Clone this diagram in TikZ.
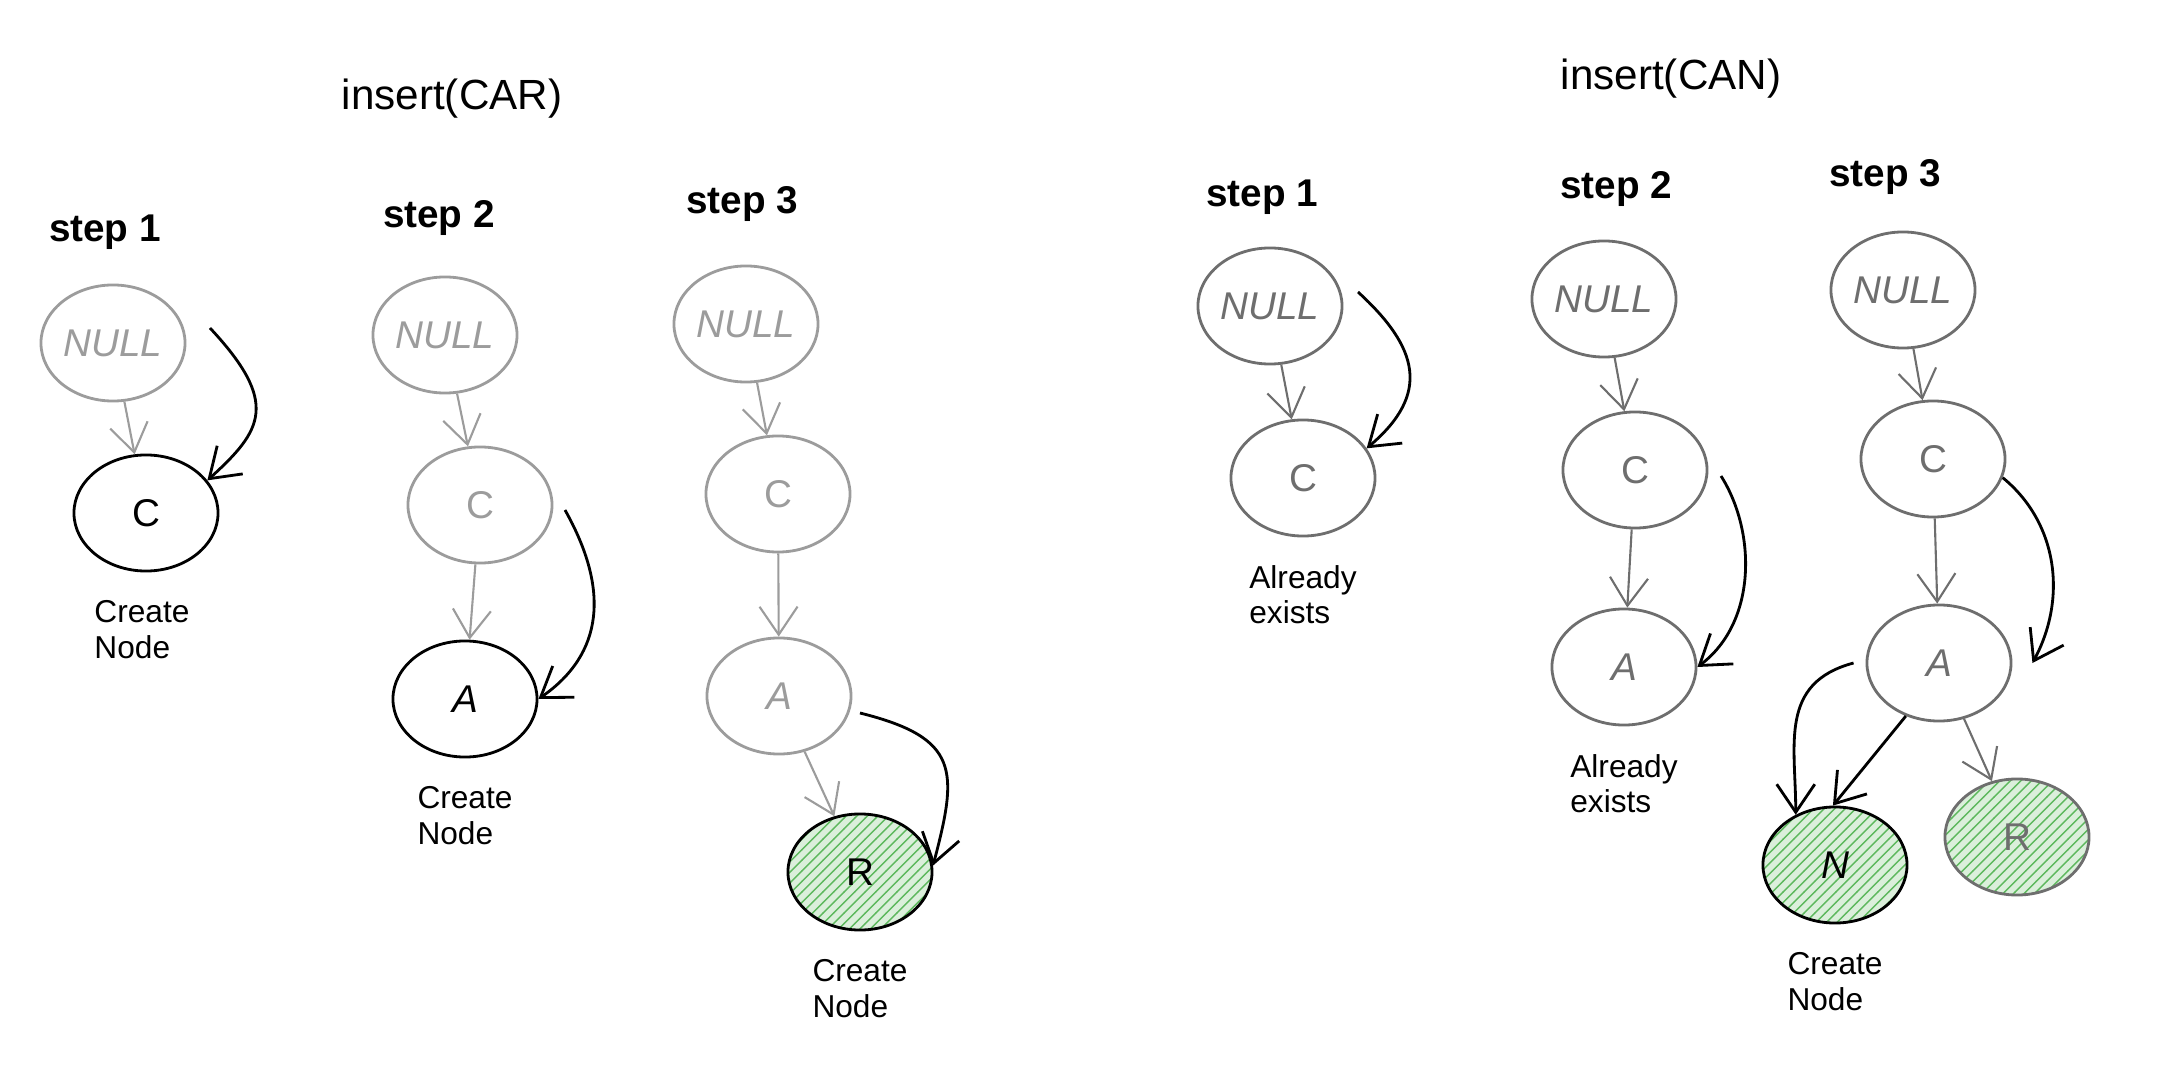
\documentclass[tikz,border=0pt]{standalone}
\usepackage{fontspec}
\setmainfont{Liberation Sans}
\usetikzlibrary{positioning,shapes.geometric,arrows.meta,patterns}

\definecolor{fadegray}{HTML}{9C9C9C}
\definecolor{midgray}{HTML}{6E6E6E}
\definecolor{hatchgreen}{HTML}{5DB85D}

\begin{document}
\begin{tikzpicture}[
	x=0.01cm,y=-0.01cm,
	node distance=0.16cm,
	tree/.style={draw,ellipse,minimum width=1.44cm,minimum height=1.16cm,inner sep=0pt,line width=0.8pt,font=\fontsize{11}{13}\selectfont},
	faded/.style={tree,draw=fadegray,text=fadegray},
	done/.style={tree,draw=midgray,text=midgray},
	active/.style={tree,draw=black,text=black},
	newnode/.style={preaction={fill=hatchgreen!22},pattern=north east lines,pattern color=hatchgreen},
	steplabel/.style={font=\bfseries\fontsize{11}{13}\selectfont},
	title/.style={font=\fontsize{12}{14}\selectfont},
	note/.style={align=left,font=\fontsize{9}{10}\selectfont},
	ptr/.style={-{Straight Barb[length=0.28cm,width=0.38cm]},line width=0.8pt},
	fadeptr/.style={ptr,draw=fadegray,line width=0.6pt},
	doneptr/.style={ptr,draw=midgray,line width=0.6pt}
	]
	\useasboundingbox (0,0) rectangle (2162,1082);

	% insert(CAR)
	\node[title] (carhead) at (452,99) {insert(CAR)};

	\node[steplabel] (car1) at (105,232) {step 1};
	\node[faded] (null11) at (113,343) {\itshape NULL};
	\node[active] (c11) at (146,513) {C};
	\node[note,below=of c11,xshift=-0.04cm] {Create\\Node};
	\coordinate (p11) at (210,328);
	\draw[fadeptr] (null11) -- (c11);
	\draw[ptr] (p11) .. controls +(70,75) and +(55,-50) .. (c11.28);

	\node[steplabel] (car2) at (439,218) {step 2};
	\node[faded] (null12) at (445,335) {\itshape NULL};
	\node[faded] (c12) at (480,505) {C};
	\node[active] (a12) at (465,699) {\itshape A};
	\node[note,below=of a12] {Create\\Node};
	\coordinate (p12) at (565,510);
	\draw[fadeptr] (null12) -- (c12);
	\draw[fadeptr] (c12) -- (a12);
	\draw[ptr] (p12) .. controls +(45,80) and +(65,-45) .. (a12.east);

	\node[steplabel] (car3) at (742,204) {step 3};
	\node[faded] (null13) at (746,324) {\itshape NULL};
	\node[faded] (c13) at (778,494) {C};
	\node[faded] (a13) at (779,696) {\itshape A};
	\node[active,newnode] (r13) at (860,872) {R};
	\node[note,below=of r13] {Create\\Node};
	\coordinate (p13) at (860,713);
	\draw[fadeptr] (null13) -- (c13);
	\draw[fadeptr] (c13) -- (a13);
	\draw[fadeptr] (a13) -- (r13);
	\draw[ptr] (p13) .. controls +(100,25) and +(25,-95) .. (r13.5);

	% insert(CAN)
	\node[title] (canhead) at (1671,79) {insert(CAN)};

	\node[steplabel] (can1) at (1262,197) {step 1};
	\node[done] (null21) at (1270,306) {\itshape NULL};
	\node[done] (c21) at (1303,478) {C};
	\node[note,below=of c21] {Already\\exists};
	\coordinate (p21) at (1358,292);
	\draw[doneptr] (null21) -- (c21);
	\draw[ptr] (p21) .. controls +(60,55) and +(65,-55) .. (c21.25);

	\node[steplabel] (can2) at (1616,189) {step 2};
	\node[done] (null22) at (1604,299) {\itshape NULL};
	\node[done] (c22) at (1635,470) {C};
	\node[done] (a22) at (1624,667) {\itshape A};
	\node[note,below=of a22] {Already\\exists};
	\coordinate (p22) at (1721,476);
	\draw[doneptr] (null22) -- (c22);
	\draw[doneptr] (c22) -- (a22);
	\draw[ptr] (p22) .. controls +(35,55) and +(60,-45) .. (a22.east);

	\node[steplabel] (can3) at (1885,177) {step 3};
	\node[done] (null23) at (1903,290) {\itshape NULL};
	\node[done] (c23) at (1933,459) {C};
	\node[done] (a23) at (1939,663) {\itshape A};
	\node[active,newnode] (n23) at (1835,865) {\itshape N};
	\node[done,newnode] (r23) at (2017,837) {R};
	\node[note,below=of n23] {Create\\Node};
	\draw[doneptr] (null23) -- (c23);
	\draw[doneptr] (c23) -- (a23);
	\draw[doneptr] (a23) -- (r23);
	\draw[ptr] (c23.-15) .. controls +(55,45) and +(35,-65) .. ([xshift=0.2cm]a23.east);
	\draw[ptr] (a23.-122) -- (n23.92);
	\draw[ptr] ([xshift=-0.12cm]a23.west) .. controls +(-75,20) and +(0,-70) .. (n23.128);
\end{tikzpicture}
\end{document}
